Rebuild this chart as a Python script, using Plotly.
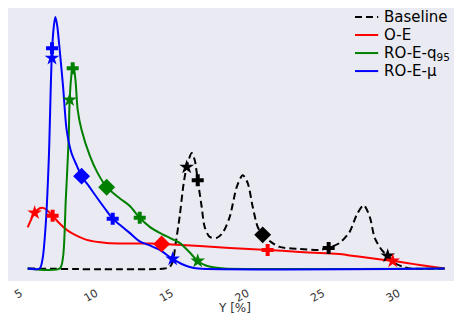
import plotly.graph_objects as go

# Density curves (x in %, y in density units)
baseline_x = [5.20, 14.27, 14.60, 14.80, 15.00, 15.26, 15.53, 15.73, 16.06, 16.26, 16.46, 16.72,
              16.92, 17.25, 17.72, 18.11, 18.58, 19.04, 19.44, 19.77, 20.10, 20.43, 20.76, 21.30,
              21.89, 23.21, 24.54, 25.13, 25.86, 26.52, 26.99, 27.45, 27.85, 28.18, 28.64, 29.04,
              29.50, 30.00, 30.50, 32.81]
baseline_y = [0.0, 0.0, 0.003, 0.013, 0.05, 0.103, 0.170, 0.202, 0.230, 0.216, 0.176, 0.123,
              0.083, 0.063, 0.061, 0.071, 0.103, 0.162, 0.186, 0.170, 0.123, 0.083, 0.067, 0.053,
              0.043, 0.039, 0.037, 0.041, 0.051, 0.073, 0.107, 0.126, 0.103, 0.061, 0.037, 0.025,
              0.011, 0.004, 0.0, 0.0]

oe_x = [5.20, 5.66, 6.00, 6.19, 6.45, 6.85, 7.30, 7.78, 8.40, 9.11, 10.43, 12.00, 13.28, 14.07,
        16.59, 18.58, 21.09, 23.21, 24.54, 25.86, 26.52, 27.85, 29.37, 30.30, 31.16, 32.81]
oe_y = [0.082, 0.111, 0.120, 0.121, 0.117, 0.105, 0.090, 0.077, 0.066, 0.057, 0.051, 0.050,
        0.050, 0.049, 0.045, 0.041, 0.037, 0.033, 0.031, 0.029, 0.026, 0.021, 0.015, 0.011,
        0.007, 0.0]

q95_x = [5.20, 7.32, 7.54, 7.72, 7.91, 7.98, 8.12, 8.25, 8.38, 8.51, 8.77, 9.30, 9.80, 10.43,
         11.29, 11.95, 12.62, 13.28, 13.94, 14.60, 15.26, 15.90, 16.46, 17.00, 17.58, 18.20, 32.81]
q95_y = [0.0, 0.0, 0.023, 0.136, 0.256, 0.336, 0.390, 0.401, 0.370, 0.316, 0.276, 0.226, 0.192,
         0.162, 0.140, 0.125, 0.101, 0.083, 0.071, 0.061, 0.051, 0.033, 0.015, 0.006, 0.002,
         0.0, 0.0]

mu_x = [5.20, 5.99, 6.19, 6.40, 6.60, 6.79, 6.92, 7.03, 7.15, 7.32, 7.55, 7.78, 8.10, 8.45, 8.77,
        9.30, 9.77, 10.30, 10.83, 11.30, 11.95, 12.62, 13.28, 13.94, 14.80, 15.40, 15.93, 16.50,
        32.81]
mu_y = [0.0, 0.0, 0.020, 0.090, 0.220, 0.419, 0.480, 0.501, 0.485, 0.435, 0.360, 0.276, 0.230,
        0.205, 0.184, 0.162, 0.142, 0.120, 0.099, 0.087, 0.071, 0.054, 0.046, 0.037, 0.019,
        0.009, 0.003, 0.0, 0.0]

# Summary markers on each curve: star, plus, diamond, plus, star
marker_symbols = ["star", "cross", "diamond", "cross", "star"]
baseline_mx = [15.73, 16.46, 20.76, 25.13, 29.04]
baseline_my = [0.202, 0.176, 0.067, 0.041, 0.025]
oe_mx = [5.66, 6.85, 14.07, 21.09, 29.37]
oe_my = [0.111, 0.105, 0.049, 0.037, 0.015]
q95_mx = [7.98, 8.18, 10.43, 12.62, 16.46]
q95_my = [0.336, 0.399, 0.162, 0.101, 0.015]
mu_mx = [6.81, 6.81, 8.77, 10.83, 14.80]
mu_my = [0.419, 0.439, 0.184, 0.099, 0.019]

series = [
    ("Baseline", "black", "7px,4px", baseline_x, baseline_y, baseline_mx, baseline_my),
    ("O-E", "red", "solid", oe_x, oe_y, oe_mx, oe_my),
    ("RO-E-q<sub>95</sub>", "green", "solid", q95_x, q95_y, q95_mx, q95_my),
    ("RO-E-μ", "blue", "solid", mu_x, mu_y, mu_mx, mu_my),
]

marker_sizes = [11, 10, 13, 10, 11]

fig = go.Figure()
for name, color, dash, xs, ys, mx, my in series:
    fig.add_trace(go.Scatter(
        x=xs, y=ys, mode="lines", name=name, showlegend=False,
        line=dict(color=color, width=2, dash=dash, shape="spline", smoothing=0.8),
    ))
for name, color, dash, xs, ys, mx, my in series:
    fig.add_trace(go.Scatter(
        x=mx, y=my, mode="markers", showlegend=False, hoverinfo="skip",
        marker=dict(color=color, symbol=marker_symbols, size=marker_sizes,
                    opacity=1, line=dict(width=0)),
    ))

# legend drawn by hand so the row spacing matches the matplotlib original
row_top, row_step = 0.967, 0.066
for i, (name, color, dash, *_rest) in enumerate(series):
    yy = row_top - i * row_step
    fig.add_shape(type="line", xref="paper", yref="paper",
                  x0=0.778, x1=0.830, y0=yy, y1=yy,
                  line=dict(color=color, width=2, dash=dash))
    fig.add_annotation(text=name, xref="paper", yref="paper", x=0.839, y=yy,
                       xanchor="left", yanchor="middle", showarrow=False,
                       font=dict(size=15, color="black"))

# x axis label (axis title ignores standoff when automargin is off)
fig.add_annotation(text="Y [%]", xref="paper", yref="paper", x=0.507, y=-0.099,
                   xanchor="center", yanchor="middle", showarrow=False,
                   font=dict(size=12, color="#333333"))

# page body adds an 8px margin, so the figure is sized to fit inside the window
fig.update_layout(
    width=446, height=309,
    margin=dict(l=0, r=0, t=0, b=36),
    paper_bgcolor="white",
    plot_bgcolor="#EAEAF2",
    font=dict(family="DejaVu Sans", color="#333333"),
    showlegend=False,
    xaxis=dict(
        range=[3.896, 33.43], tickvals=[5, 10, 15, 20, 25, 30], tickangle=-30,
        showgrid=False, zeroline=False, showline=False, ticks="", automargin=False,
        tickfont=dict(size=11, color="#333333"), ticklabelshift=-4, ticklabelstandoff=3,
    ),
    yaxis=dict(
        range=[-0.0249, 0.519], showticklabels=False, automargin=False,
        showgrid=False, zeroline=False, showline=False, ticks="",
    ),
)

fig.write_html("out.html")
